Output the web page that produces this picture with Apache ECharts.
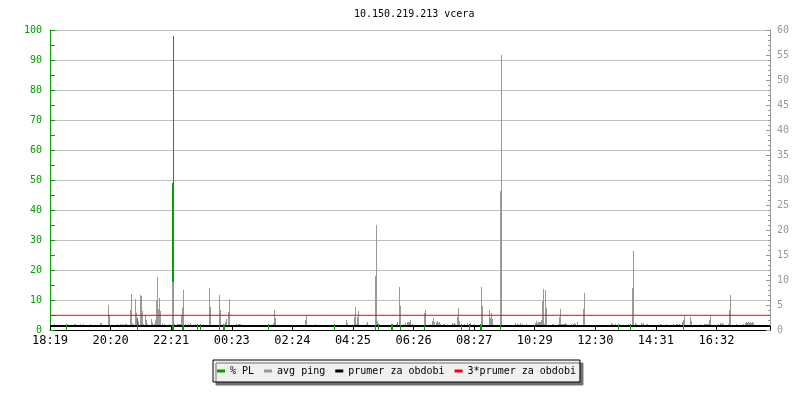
<!DOCTYPE html>
<html>
<head>
<meta charset="utf-8">
<title>10.150.219.213 vcera</title>
<script src="https://cdn.jsdelivr.net/npm/echarts@6/dist/echarts.min.js"></script>
<style>
  html, body { margin: 0; padding: 0; background: #fff; }
  #chart { width: 800px; height: 400px; }
</style>
</head>
<body>
<div id="chart"></div>
<script>
// jeden vzorek = jeden sloupec grafu (2 minuty)
const sampleCount = 720
const tickStep = 60.59
const tickLabels = ['18:19', '20:20', '22:21', '00:23', '02:24', '04:25', '06:26', '08:27', '10:29', '12:30', '14:31', '16:32']

// [vzorek, ms]
const pingSamples = [
  [4, 1.2], [16, 1.2], [17, 1.2], [24, 1.2], [25, 1.2], [30, 1.2], [33, 1.2], [40, 1.2], [50, 1.4], [51, 1.4],
  [58, 5.0], [59, 2.9], [67, 1.2], [70, 1.2], [72, 1.2], [75, 1.2], [76, 1.2], [80, 4.0], [81, 7.2], [82, 1.3],
  [83, 1.2], [85, 6.2], [86, 3.5], [88, 1.7], [90, 7.0], [91, 6.8], [92, 3.8], [93, 1.2], [95, 3.0], [96, 2.0],
  [97, 1.2], [101, 2.2], [102, 1.5], [104, 1.2], [105, 2.1], [106, 5.9], [107, 10.6], [108, 4.2], [109, 6.4], [110, 3.8],
  [112, 1.3], [114, 1.2], [119, 1.2], [122, 9.6], [123, 9.6], [124, 1.2], [127, 1.2], [128, 1.2], [129, 1.2], [130, 1.2],
  [131, 3.0], [132, 4.5], [133, 8.0], [135, 1.2], [138, 1.2], [140, 1.4],
  [145, 1.2], [153, 1.2], [159, 8.4], [160, 4.6], [169, 7.0], [170, 4.0], [174, 1.2], [175, 1.6], [176, 2.2], [178, 3.6],
  [179, 6.2], [186, 1.2], [188, 1.2], [189, 1.2], [190, 1.2], [223, 1.4], [224, 4.0], [225, 2.4], [255, 2.0], [256, 2.8],
  [265, 1.2],
  [296, 2.0], [297, 1.4], [304, 2.6], [305, 4.6], [306, 1.2], [307, 2.6], [308, 3.8], [316, 1.2], [317, 1.6], [325, 10.8],
  [326, 21.0], [327, 1.8], [329, 1.2], [346, 1.2], [347, 1.6], [349, 8.6], [350, 4.8], [353, 1.2], [355, 1.4], [357, 1.6],
  [358, 1.6], [359, 1.6], [360, 2.0], [362, 1.2], [374, 3.4], [375, 4.0], [380, 1.2], [382, 1.8], [383, 2.4], [384, 1.6],
  [386, 1.6], [387, 1.8], [388, 1.4], [389, 1.6], [390, 1.2], [393, 1.2], [394, 1.2], [402, 1.4], [403, 1.2], [404, 1.4],
  [405, 1.2], [407, 2.6], [408, 4.4], [409, 1.8], [414, 1.2], [417, 1.4], [420, 1.4], [424, 1.2],
  [431, 8.6], [432, 4.8], [439, 4.0], [440, 2.4], [441, 3.4], [442, 2.2], [450, 27.8], [451, 55.0], [465, 1.4], [467, 1.2],
  [468, 1.2], [470, 1.4], [472, 1.2], [476, 1.2], [485, 1.4], [486, 1.8], [487, 1.4], [488, 1.6], [489, 1.6], [490, 1.6],
  [491, 2.0], [492, 5.8], [493, 8.2], [494, 1.2], [495, 8.0], [496, 4.4], [502, 1.2], [503, 1.2], [508, 1.2], [509, 2.6],
  [510, 4.2], [511, 1.2], [512, 1.2], [513, 1.2], [514, 1.2], [515, 1.4], [516, 1.2], [521, 1.2], [523, 1.2], [524, 1.4],
  [525, 1.2], [527, 1.6], [533, 4.2], [534, 7.4], [561, 1.4], [562, 1.2], [565, 1.2], [568, 1.2], [569, 1.2],
  [578, 1.2], [582, 8.4], [583, 15.8], [585, 1.4], [586, 1.2], [591, 1.4], [592, 1.2], [593, 1.4], [596, 1.2], [597, 1.2],
  [610, 1.2], [611, 1.2], [616, 1.2], [623, 1.2], [626, 1.2], [627, 1.2], [629, 1.2], [632, 1.6], [633, 2.0], [634, 2.8],
  [640, 2.6], [641, 1.8], [650, 1.2], [654, 1.2], [655, 1.2], [656, 1.2], [657, 1.2], [658, 1.2], [659, 2.0], [660, 2.8],
  [668, 1.2], [670, 1.4], [671, 1.2], [672, 1.4], [673, 1.2], [678, 1.2], [679, 4.0], [680, 7.0], [686, 1.2], [693, 1.2],
  [695, 1.4], [696, 1.6], [697, 1.4], [698, 1.6], [699, 1.4], [700, 1.6], [701, 1.4], [702, 1.6], [703, 1.4]
]

// [vzorek, %]
const lossSamples = [
  [16, 2], [87, 4], [122, 49], [123, 98], [132, 2], [133, 2], [147, 2], [150, 2], [169, 2], [173, 2],
  [174, 2], [218, 2], [284, 2], [325, 2], [328, 2], [341, 2], [342, 2], [350, 2], [374, 2], [411, 2],
  [419, 2], [430, 2], [431, 2], [450, 2], [568, 2], [580, 2], [633, 2]
]

const prumer = 0.8
const prumer3 = 2.94
const pingFloor = 1.0

const mono = 'DejaVu Sans Mono'
const green = '#00a000'
const grey = '#999999'

// svisly sloupec od "floor" do hodnoty, 1 px siroky
function column (floor) {
  return function (params, api) {
    const top = api.coord([api.value(0), api.value(1)])
    const base = api.coord([api.value(0), floor])
    return {
      type: 'rect',
      shape: { x: top[0], y: top[1], width: 1, height: base[1] - top[1] },
      style: { fill: api.visual('color') }
    }
  }
}

const chart = echarts.init(document.getElementById('chart'))
chart.setOption({
  animation: false,
  title: {
    text: '10.150.219.213 vcera',
    left: 349,
    top: 4,
    textStyle: { fontFamily: mono, fontSize: 10, fontWeight: 'normal', color: '#000' }
  },
  legend: {
    data: ['% PL', 'avg ping', 'prumer za obdobi', '3*prumer za obdobi'],
    left: 213,
    top: 360,
    selectedMode: false,
    icon: 'rect',
    itemWidth: 8,
    itemHeight: 3,
    itemGap: 10,
    padding: [6, 4],
    backgroundColor: '#f0f0f0',
    borderColor: '#000',
    borderWidth: 1,
    shadowColor: '#707070',
    shadowOffsetX: 3,
    shadowOffsetY: 3,
    shadowBlur: 0,
    textStyle: { fontFamily: mono, fontSize: 10, color: '#000' }
  },
  grid: { left: 50, right: 30, top: 30, bottom: 70 },
  xAxis: {
    type: 'value',
    min: 0,
    max: sampleCount,
    interval: tickStep,
    axisLine: { lineStyle: { color: '#000' } },
    axisTick: { inside: true, length: 4, lineStyle: { color: '#000' } },
    axisLabel: {
      formatter: v => tickLabels[Math.round(v / tickStep)] || '',
      color: '#000', fontFamily: mono, fontSize: 12, margin: 5
    },
    splitLine: { show: false }
  },
  yAxis: [
    {
      type: 'value',
      min: 0,
      max: 100,
      interval: 10,
      position: 'left',
      axisLine: { show: true, lineStyle: { color: green } },
      axisTick: { show: true, inside: true, length: 5, lineStyle: { color: green } },
      minorTick: { show: true, splitNumber: 2, length: 5, lineStyle: { color: green } },
      axisLabel: { color: green, fontFamily: mono, fontSize: 10, margin: 8 },
      splitLine: { show: true, lineStyle: { color: '#c0c0c0' } }
    },
    {
      type: 'value',
      min: 0,
      max: 60,
      interval: 5,
      position: 'right',
      axisLine: { show: true, lineStyle: { color: grey } },
      axisTick: { show: true, inside: true, length: 4, lineStyle: { color: grey } },
      minorTick: { show: true, splitNumber: 5, length: 2, lineStyle: { color: grey } },
      axisLabel: { color: grey, fontFamily: mono, fontSize: 10, margin: 7 },
      splitLine: { show: false }
    }
  ],
  series: [
    {
      name: 'prumer za obdobi',
      type: 'line',
      yAxisIndex: 1,
      z: 2,
      color: '#000',
      symbol: 'none',
      silent: true,
      lineStyle: { width: 2, color: '#000' },
      data: [[0, prumer], [sampleCount, prumer]]
    },
    {
      name: '% PL',
      type: 'custom',
      yAxisIndex: 0,
      z: 3,
      color: green,
      silent: true,
      renderItem: column(0),
      encode: { x: 0, y: 1 },
      data: lossSamples
    },
    {
      name: 'avg ping',
      type: 'custom',
      yAxisIndex: 1,
      z: 4,
      color: grey,
      silent: true,
      renderItem: column(pingFloor),
      encode: { x: 0, y: 1 },
      data: pingSamples
    },
    {
      name: '3*prumer za obdobi',
      type: 'line',
      yAxisIndex: 1,
      z: 5,
      color: '#ff0000',
      symbol: 'none',
      silent: true,
      lineStyle: { width: 1, color: '#ff0000' },
      data: [[0, prumer3], [sampleCount, prumer3]]
    }
  ]
})
</script>
</body>
</html>
